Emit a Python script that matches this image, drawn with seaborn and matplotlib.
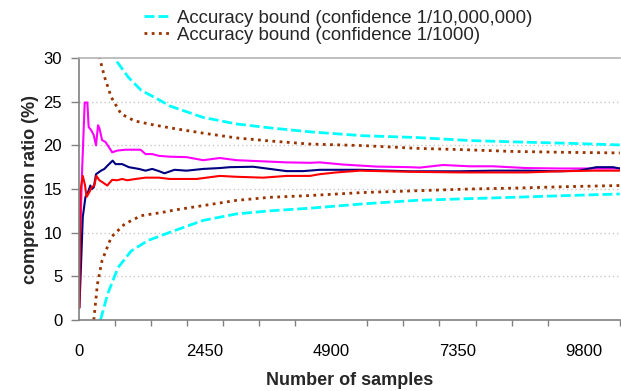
import numpy as np
import pandas as pd
import seaborn as sns
import matplotlib.pyplot as plt
from matplotlib.ticker import MultipleLocator, FixedLocator

# bounds
cyan_hi_x = [620, 700, 960, 1210, 1530, 1770, 2410, 3060, 3710, 4480, 5520, 6550, 7590, 8430, 9470, 10500]
cyan_hi_y = [31.0, 29.9, 27.8, 26.3, 25.3, 24.5, 23.2, 22.45, 22.0, 21.55, 21.1, 20.9, 20.55, 20.4, 20.24, 20.05]
cyan_lo_x = [420, 560, 760, 1015, 1340, 1770, 2410, 3060, 3710, 4480, 5520, 6550, 7590, 8430, 9470, 10500]
cyan_lo_y = [0.0, 3.0, 6.0, 7.9, 9.1, 10.05, 11.4, 12.15, 12.5, 12.8, 13.3, 13.7, 13.9, 14.05, 14.25, 14.43]
brown_hi_x = [360, 500, 630, 820, 1080, 1400, 1770, 2410, 3060, 3710, 4480, 5520, 6550, 7590, 8430, 9470, 10500]
brown_hi_y = [31.0, 27.8, 25.5, 23.6, 22.8, 22.4, 22.0, 21.4, 20.85, 20.5, 20.15, 19.97, 19.66, 19.48, 19.3, 19.2, 19.13]
brown_lo_x = [290, 360, 450, 630, 890, 1210, 1600, 1860, 2410, 3060, 3710, 4480, 5520, 6550, 7590, 8430, 9470, 10500]
brown_lo_y = [0.0, 4.1, 6.8, 9.5, 11.0, 11.95, 12.3, 12.6, 13.1, 13.7, 14.05, 14.25, 14.6, 14.8, 15.0, 15.1, 15.27, 15.4]

# measured compression ratio
mag_x = [0, 30, 62, 113, 165, 190, 243, 287, 333, 372, 398, 450, 514, 582, 647, 744, 906, 1035, 1197, 1294,
         1423, 1553, 1766, 2090, 2413, 2737, 3060, 3449, 4031, 4484, 4678, 5131, 5777, 6424, 6618, 7071, 7589,
         8042, 8688, 9335, 9982, 10500]
mag_y = [9.0, 10.5, 17.0, 24.9, 24.9, 22.1, 21.7, 21.2, 20.0, 22.3, 22.0, 20.6, 20.4, 19.8, 19.2, 19.4, 19.5,
         19.5, 19.5, 19.0, 19.0, 18.8, 18.7, 18.65, 18.3, 18.55, 18.3, 18.2, 18.05, 18.0, 18.05, 17.8, 17.57,
         17.5, 17.45, 17.75, 17.6, 17.6, 17.4, 17.35, 17.35, 17.35]
navy_x = [10, 40, 76, 128, 175, 223, 250, 290, 333, 430, 495, 560, 656, 712, 841, 970, 1165, 1294, 1423, 1553,
          1662, 1856, 2090, 2413, 2737, 2931, 3384, 3707, 4031, 4355, 4678, 5454, 6424, 7395, 8042, 8688, 9335,
          9700, 10047, 10370, 10500]
navy_y = [1.4, 6.0, 11.8, 14.1, 14.6, 15.4, 15.0, 15.2, 16.7, 17.1, 17.3, 17.7, 18.25, 17.85, 17.85, 17.5, 17.3,
          17.1, 17.3, 17.05, 16.8, 17.2, 17.1, 17.3, 17.4, 17.5, 17.55, 17.3, 17.05, 17.05, 17.2, 17.2, 17.03,
          17.03, 17.1, 17.1, 17.03, 17.1, 17.5, 17.5, 17.35]
red_x = [10, 30, 76, 117, 150, 200, 250, 300, 340, 398, 453, 550, 647, 744, 841, 938, 1100, 1294, 1553, 1766,
         2284, 2737, 3060, 3578, 4031, 4484, 4678, 5001, 5454, 6424, 7395, 8042, 8688, 9335, 9982, 10500]
red_y = [1.4, 14.8, 16.5, 15.5, 14.1, 14.6, 15.2, 15.4, 16.5, 16.0, 15.8, 15.4, 16.05, 16.0, 16.15, 16.0, 16.15,
         16.3, 16.3, 16.15, 16.15, 16.5, 16.4, 16.3, 16.5, 16.5, 16.7, 16.9, 17.1, 16.97, 16.9, 16.9, 16.9,
         17.03, 17.1, 17.1]

label_hi = "Accuracy bound (confidence 1/10,000,000)"
label_lo = "Accuracy bound (confidence 1/1000)"
xtick_labels = [0, 2450, 4900, 7350, 9800]

sns.set_theme(style="white")
plt.rcParams['font.family'] = ['Liberation Sans', 'DejaVu Sans']

fig = plt.figure(figsize=(6.21, 3.91), dpi=100)
ax = fig.add_axes([0.127, 0.1816, 0.871, 0.670])

cyan_ls = (0, (3.6, 1.4))
brown_ls = (0, (1, 1.6))
sns.lineplot(x=cyan_hi_x, y=cyan_hi_y, ax=ax, color="#00FFFF", lw=2, linestyle=cyan_ls, label=label_hi)
sns.lineplot(x=cyan_lo_x, y=cyan_lo_y, ax=ax, color="#00FFFF", lw=2, linestyle=cyan_ls, label="_nolegend_")
sns.lineplot(x=brown_hi_x, y=brown_hi_y, ax=ax, color="#993300", lw=2, linestyle=brown_ls, label=label_lo)
sns.lineplot(x=brown_lo_x, y=brown_lo_y, ax=ax, color="#993300", lw=2, linestyle=brown_ls, label="_nolegend_")
sns.lineplot(x=mag_x, y=mag_y, ax=ax, color="#FF00FF", lw=1.5, label="_nolegend_")
sns.lineplot(x=navy_x, y=navy_y, ax=ax, color="#000080", lw=1.5, label="_nolegend_")
sns.lineplot(x=red_x, y=red_y, ax=ax, color="#FF0000", lw=1.5, label="_nolegend_")

ax.set_xlim(0, 10500)
ax.set_ylim(0, 30)
ax.xaxis.set_major_locator(FixedLocator(xtick_labels))
ax.xaxis.set_minor_locator(MultipleLocator(700))
ax.yaxis.set_major_locator(MultipleLocator(5))
ax.tick_params(axis="x", which="major", length=0, pad=17, labelsize=12, colors="black")
ax.tick_params(axis="x", which="minor", length=4, width=1, color="#808080", direction="out", bottom=True)
ax.tick_params(axis="y", length=6, width=1, color="#808080", direction="out", left=True, pad=6,
               labelsize=12, labelcolor="black")

for v in [5, 10, 15, 20, 25]:
    ax.axhline(v, color="#c8c8c8", lw=1, linestyle=(0, (1, 2)), zorder=0)

for side in ["left", "bottom"]:
    ax.spines[side].set_color("#808080")
    ax.spines[side].set_linewidth(1.2)
ax.spines["top"].set_color("#b4b4b4")
ax.spines["top"].set_linewidth(1.2)
ax.spines["right"].set_visible(False)

ax.set_xlabel("Number of samples", fontsize=13, fontweight="bold", labelpad=10)
ax.set_ylabel("compression ratio (%)", fontsize=13, fontweight="bold", labelpad=3)

ax.legend(loc="lower left", bbox_to_anchor=(0.121, 1.055), frameon=False, fontsize=13.4,
          handlelength=1.45, handletextpad=0.3, labelspacing=0.0, borderpad=0, borderaxespad=0)

fig.savefig("out.png", dpi=100)
